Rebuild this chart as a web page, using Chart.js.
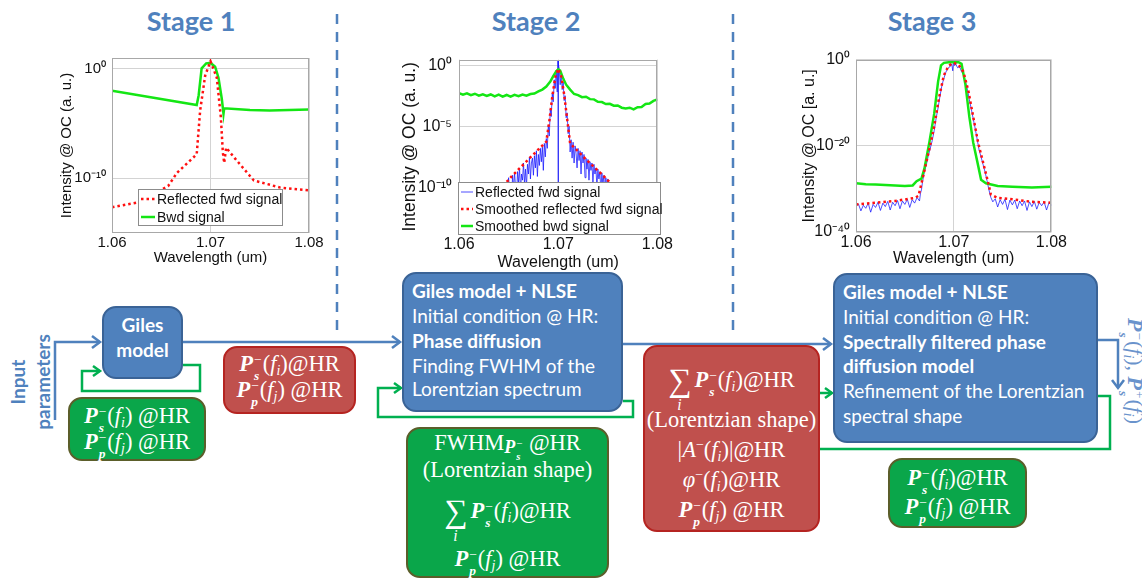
<!DOCTYPE html>
<html>
<head>
<meta charset="utf-8">
<script src="https://cdn.jsdelivr.net/npm/chart.js@4.4.0/dist/chart.umd.min.js"></script>
<style>
body { margin: 0; background: #fff; }
#page { position: relative; width: 1142px; height: 583px; overflow: hidden; font-family: Lato, "Open Sans", sans-serif; }
canvas { position: absolute; }
svg { position: absolute; left: 0; top: 0; }
.stage { position: absolute; top: 4px; width: 160px; line-height: 32px; text-align: center; font: bold 27px Lato; color: #4f81bd; }
.box { position: absolute; box-sizing: border-box; border-radius: 14px; color: #fff; }
.blue { background: #4f81bd; border: 2px solid #3a6396; }
.red { background: #c0504d; border: 2px solid #b52421; }
.green { background: #0aa64a; border: 2px solid #5b5e2a; }
.ln { position: absolute; left: 0; right: 0; height: 26px; line-height: 26px; white-space: nowrap; }
.sans .ln { font: 19px Lato; padding-left: 8px; }
.sans b { font-weight: bold; }
.math .ln { font: 22.5px "Liberation Serif", serif; text-align: center; }
.st { display: inline-flex; flex-direction: column; font-size: .6em; line-height: 1.15em; vertical-align: .5em; margin: 0 1px; text-align: left; }
sub { font-size: .62em; vertical-align: -.3em; font-style: italic; }
sub.fw { font-style: normal; font-size: .8em; vertical-align: -.15em; }
sup { font-size: .62em; vertical-align: .55em; }
.sum { position: relative; display: inline-block; font-size: 1.45em; line-height: 1; vertical-align: -.12em; margin-right: 3px; }
.sum i { position: absolute; left: 50%; top: 100%; transform: translateX(-60%); font-size: .48em; line-height: 1; }
#inputTxt { position: absolute; left: -25px; top: 357px; width: 110px; height: 50px; text-align: center; font: bold 19px/25px Lato; color: #4f81bd; transform: rotate(-90deg); }
#outTxt { position: absolute; left: 1050px; top: 358px; width: 170px; height: 26px; line-height: 26px; text-align: center; font: 22px "Liberation Serif", serif; color: #6a93cc; transform: rotate(90deg); white-space: nowrap; }
</style>
</head>
<body>
<div id="page">
  <svg width="1142" height="583">
    <g stroke="#4f81bd" stroke-width="2.5" fill="none">
      <line x1="337" y1="14" x2="337" y2="333" stroke-dasharray="10,8"/>
      <line x1="733" y1="14" x2="733" y2="330" stroke-dasharray="10,8"/>
      <polyline points="55,420 55,342 100,342"/>
      <polyline points="92,336 100,342 92,348"/>
      <line x1="183" y1="342" x2="400" y2="342"/>
      <polyline points="392,336 400,342 392,348"/>
      <line x1="623" y1="344" x2="831" y2="344"/>
      <polyline points="823,338 831,344 823,350"/>
      <polyline points="1098,340 1118,340 1118,388"/>
      <polyline points="1112,380 1118,388 1124,380"/>
    </g>
    <g stroke="#00b050" stroke-width="2.5" fill="none">
      <polyline points="183,365 200,365 200,391 82,391 82,371 100,371"/>
      <polyline points="93,366 100,371 93,376"/>
      <polyline points="623,401 633,401 633,417 378,417 378,388 401,388"/>
      <polyline points="394,383 401,388 394,393"/>
      <polyline points="1098,396 1110,396 1110,449 817,449 817,393 832,393"/>
      <polyline points="825,388 832,393 825,398"/>
    </g>
  </svg>

  <div class="stage" style="left:111px">Stage 1</div>
  <div class="stage" style="left:456px">Stage 2</div>
  <div class="stage" style="left:852px">Stage 3</div>

  <canvas id="c1" width="273" height="224" style="left:52px;top:43px"></canvas>
  <canvas id="c2" width="274" height="229" style="left:400px;top:43px"></canvas>
  <canvas id="c3" width="270" height="224" style="left:798px;top:44px"></canvas>

  <div id="inputTxt">Input<br>parameters</div>
  <div id="outTxt"></div>
</div>

<script>
// ---- shared axis values
const xTicks = [1.06, 1.07, 1.08];
const xTickLabels = ["1.06", "1.07", "1.08"];

// ---- Stage 1 (log10 of intensity)
const s1YTickExp = [0, -10];
const s1YTickLabels = ["10⁰", "10⁻¹⁰"];
const s1RedWl = [1.0600, 1.0627, 1.0657, 1.0666, 1.0686, 1.06895, 1.06946, 1.0700, 1.07064, 1.07105, 1.07125, 1.07139, 1.07159, 1.0725, 1.0744, 1.0771, 1.0800];
const s1Red = [-12.65, -12.2, -10.7, -9.5, -7.8, -3.8, -0.6, 0.7, -0.8, -4.4, -7.6, -8.6, -7.2, -8.2, -10.2, -10.85, -11.1];
const s1GreenWl = [1.0600, 1.0686, 1.0688, 1.0691, 1.06956, 1.0700, 1.07047, 1.07081, 1.07115, 1.07132, 1.07139, 1.0740, 1.0760, 1.0800];
const s1Green = [-2.0, -3.3, -2.4, 0.06, 0.5, 0.55, 0.2, -0.8, -2.75, -4.1, -3.6, -3.75, -3.8, -3.7];

// ---- Stage 2
const s2YTickExp = [0, -5, -10];
const s2YTickLabels = ["10⁰", "10⁻⁵", "10⁻¹⁰"];
const s2BlueWl = [1.0600, 1.0602, 1.0604, 1.0607, 1.0609, 1.0612, 1.0614, 1.0618, 1.0620, 1.0626, 1.0640,
  1.0645, 1.0646, 1.0647, 1.0648, 1.0649, 1.0650, 1.0651, 1.0652, 1.0653, 1.0654, 1.0655, 1.0656, 1.0657, 1.0658, 1.0659,
  1.0660, 1.0661, 1.0662, 1.0663, 1.0664, 1.0665, 1.0666, 1.0667, 1.0668, 1.0669, 1.0670, 1.0671, 1.0672, 1.0673, 1.0674,
  1.0675, 1.0676, 1.0677, 1.0678, 1.0679, 1.0680, 1.0681, 1.0682, 1.0683, 1.0684, 1.0685, 1.0686, 1.0687, 1.0688, 1.0689,
  1.0690, 1.0691, 1.0692, 1.0693, 1.0694, 1.0695, 1.0696, 1.0697, 1.0698, 1.0699, 1.06998, 1.07, 1.07002, 1.0701,
  1.0702, 1.0703, 1.0704, 1.0705, 1.0706, 1.0707, 1.0708, 1.0709, 1.0710, 1.0711, 1.0712, 1.0713, 1.0714, 1.0715,
  1.0716, 1.0717, 1.0718, 1.0719, 1.0720, 1.0721, 1.0722, 1.0723, 1.0724, 1.0725, 1.0726, 1.0727, 1.0728, 1.0729,
  1.0730, 1.0731, 1.0732, 1.0733, 1.0734, 1.0735, 1.0736, 1.0737, 1.0738, 1.0739, 1.0740, 1.0741, 1.0742, 1.0743,
  1.0744, 1.0745, 1.0746, 1.0747, 1.0748, 1.0749, 1.0750, 1.0751, 1.0752, 1.0753, 1.0754, 1.0755,
  1.0765, 1.0772, 1.0780, 1.0782, 1.0785, 1.0788, 1.0790, 1.0793, 1.0796, 1.0798, 1.0800];
const s2Blue = [-14.5, -13.4, -14.8, -13.6, -15.0, -13.5, -14.6, -13.8, -15.0, -14.5, -12.5,
  -10.2, -9.6, -11.0, -9.9, -10.6, -9.2, -10.4, -9.6, -11.2, -9.0, -10.1, -8.8, -9.9, -10.8, -8.7,
  -9.6, -8.4, -10.3, -8.9, -9.4, -8.0, -9.7, -8.5, -10.0, -8.1, -8.9, -7.5, -9.3, -8.0, -7.6,
  -9.0, -7.4, -8.4, -7.0, -9.1, -7.3, -8.2, -6.8, -7.9, -6.7, -8.6, -6.4, -7.5, -6.0, -6.8,
  -4.9, -5.8, -3.6, -4.2, -2.3, -3.0, -1.2, -1.9, -0.4, -2.2, 0.35, -13.0, 0.1, -0.3,
  -1.6, -0.6, -2.0, -1.4, -2.9, -2.5, -4.3, -3.9, -5.6, -5.0, -7.1, -6.1, -7.6, -6.3,
  -8.0, -6.6, -7.2, -8.4, -6.8, -7.8, -7.0, -8.9, -7.1, -8.0, -7.3, -9.2, -7.6, -8.5,
  -7.7, -9.4, -7.9, -8.6, -8.0, -9.6, -8.1, -8.9, -8.4, -10.0, -8.5, -9.3, -8.7, -10.4,
  -8.8, -9.7, -9.0, -10.6, -9.2, -9.9, -9.3, -11.0, -9.6, -10.3, -11.5, -10.5,
  -13.0, -14.5, -13.5, -15.0, -13.4, -14.8, -13.6, -15.0, -13.5, -14.7, -13.4];
const s2RedWl = [1.0600, 1.0653, 1.0670, 1.0688, 1.0691, 1.0694, 1.0697, 1.0700, 1.0703, 1.0706, 1.0709, 1.0712, 1.0728, 1.0745, 1.0800];
const s2Red = [-13.9, -9.1, -7.7, -6.25, -4.6, -2.6, -1.0, -0.3, -0.9, -2.4, -4.4, -6.4, -7.7, -9.0, -13.6];
const s2GreenWl = [1.0600, 1.0604, 1.0608, 1.0612, 1.0616, 1.0620, 1.0624, 1.0628, 1.0632, 1.0636, 1.0640, 1.0644,
  1.0648, 1.0652, 1.0656, 1.0660, 1.0664, 1.0668, 1.0672, 1.0676, 1.0680, 1.0684, 1.0688, 1.0692, 1.0695, 1.0698,
  1.0700, 1.0702, 1.0705, 1.0708, 1.0712, 1.0716, 1.0720, 1.0724, 1.0728, 1.0732, 1.0736, 1.0740, 1.0744, 1.0748,
  1.0752, 1.0756, 1.0760, 1.0764, 1.0768, 1.0772, 1.0776, 1.0780, 1.0784, 1.0788, 1.0792, 1.0796, 1.0800];
const s2Green = [-2.30, -2.42, -2.30, -2.46, -2.34, -2.50, -2.38, -2.52, -2.40, -2.56, -2.42, -2.57,
  -2.44, -2.58, -2.43, -2.54, -2.40, -2.50, -2.36, -2.32, -2.15, -2.0, -1.75, -1.35, -0.9, -0.5,
  -0.35, -0.45, -1.1, -1.6, -2.0, -2.36, -2.45, -2.62, -2.58, -2.78, -2.8, -3.0, -3.02, -3.18, -3.16,
  -3.32, -3.30, -3.48, -3.55, -3.48, -3.62, -3.44, -3.42, -3.18, -3.14, -2.92, -2.8];

// ---- Stage 3
const s3YTickExp = [0, -20, -40];
const s3YTickLabels = ["10⁰", "10⁻²⁰", "10⁻⁴⁰"];
const s3BlueWl = [1.06000, 1.06025, 1.06050, 1.06075, 1.06100, 1.06125, 1.06150, 1.06175, 1.06200, 1.06225, 1.06250,
  1.06275, 1.06300, 1.06325, 1.06350, 1.06375, 1.06400, 1.06425, 1.06450, 1.06475, 1.06500, 1.06525, 1.06550,
  1.06575, 1.06600, 1.06625, 1.06650, 1.0666, 1.0667, 1.0668, 1.0670, 1.0672, 1.0674, 1.0676, 1.0678, 1.0680,
  1.0682, 1.0684, 1.0686, 1.0688, 1.0690, 1.0692, 1.0694, 1.0696, 1.0698, 1.0699, 1.0700, 1.0701, 1.0702, 1.0704,
  1.0706, 1.0708, 1.0710, 1.0712, 1.0714, 1.0716, 1.0718, 1.0720, 1.0722, 1.0724, 1.0726, 1.0728, 1.0730, 1.0732,
  1.0734, 1.0736, 1.0738, 1.0740, 1.07425, 1.07450, 1.07475, 1.07500, 1.07525, 1.07550, 1.07575, 1.07600, 1.07625,
  1.07650, 1.07675, 1.07700, 1.07725, 1.07750, 1.07775, 1.07800, 1.07825, 1.07850, 1.07875, 1.07900, 1.07925,
  1.07950, 1.07975, 1.08000];
const s3Blue = [-34.0, -33.5, -35.1, -33.8, -34.5, -33.3, -35.4, -33.6, -34.3, -33.1, -35.0,
  -33.3, -34.1, -32.9, -34.9, -33.1, -33.9, -32.7, -34.6, -32.8, -33.6, -32.4, -34.3,
  -32.5, -33.3, -32.0, -32.8, -31.0, -30.2, -28.5, -26.0, -24.4, -22.3, -20.6, -18.8, -16.5,
  -13.6, -11.2, -8.4, -5.9, -4.3, -2.9, -2.0, -1.7, -1.0, -2.6, -0.3, -1.4, -1.0, -1.9,
  -1.6, -2.8, -3.4, -5.2, -6.9, -9.3, -11.5, -13.8, -16.0, -18.5, -21.0, -22.6, -24.3, -26.0,
  -28.0, -30.2, -32.0, -33.0, -32.3, -34.2, -32.5, -33.6, -32.4, -34.8, -32.6, -33.7, -32.6,
  -34.6, -32.8, -33.9, -32.8, -35.0, -33.0, -34.1, -32.9, -34.7, -33.1, -33.9, -33.0,
  -34.9, -33.2, -33.8];
const s3RedWl = [1.0600, 1.0620, 1.0640, 1.0660, 1.0664, 1.0669, 1.0675, 1.0680, 1.0685, 1.0690, 1.0695, 1.0700,
  1.0705, 1.0710, 1.0715, 1.0720, 1.0725, 1.0730, 1.0735, 1.0738, 1.0745, 1.0760, 1.0780, 1.0800];
const s3Red = [-33.6, -33.2, -32.8, -32.1, -31.6, -26.8, -20.8, -15.6, -8.8, -3.6, -1.35, -0.75,
  -1.2, -2.85, -7.3, -13.3, -19.3, -23.8, -28.3, -31.3, -32.1, -32.4, -33.0, -33.2];
const s3GreenWl = [1.0600, 1.0610, 1.0620, 1.0630, 1.0640, 1.0650, 1.0658, 1.0662, 1.0667, 1.0670, 1.0675, 1.0680,
  1.0684, 1.0687, 1.0690, 1.0695, 1.0700, 1.0705, 1.0708, 1.0712, 1.0716, 1.0720, 1.0725, 1.0728, 1.0733,
  1.0745, 1.0760, 1.0780, 1.0800];
const s3Green = [-28.7, -28.9, -29.0, -29.1, -29.2, -29.3, -29.2, -28.2, -27.6, -25.3, -19.3, -12.6,
  -5.1, -1.35, -0.75, -0.6, -0.6, -0.6, -1.0, -5.8, -13.3, -19.3, -24.6, -27.9, -28.7,
  -29.3, -29.5, -29.7, -29.5];

const axisFont = '"Liberation Sans", Arial, sans-serif';
const gridColor = "#d3d3d3";

const pts = (wl, ex) => wl.map((w, i) => ({ x: w, y: Math.pow(10, ex[i]) }));

const redLine = (label, wl, ex) => ({ label, data: pts(wl, ex), borderColor: "#ff1010", borderWidth: 2.5, borderDash: [2.5, 3], pointRadius: 0, order: 1 });
const greenLine = (label, wl, ex) => ({ label, data: pts(wl, ex), borderColor: "#14e614", borderWidth: 2.5, pointRadius: 0, order: 2 });
const blueLine = (label, wl, ex) => ({ label, data: pts(wl, ex), borderColor: "rgba(20,20,255,0.75)", borderWidth: 1, pointRadius: 0, order: 3 });

// axes box like matlab
const frame = {
  id: "frame",
  afterDatasetsDraw(chart) {
    const a = chart.chartArea, ctx = chart.ctx;
    ctx.save();
    ctx.strokeStyle = "#a8a8a8";
    ctx.lineWidth = 1;
    ctx.strokeRect(Math.round(a.left) + 0.5, Math.round(a.top) + 0.5, Math.round(a.width) - 1, Math.round(a.height) - 1);
    ctx.restore();
  },
};

// legend drawn inside the plot box
const innerLegend = {
  id: "innerLegend",
  afterDatasetsDraw(chart, args, o) {
    if (!o || !o.w) return;
    const a = chart.chartArea, ctx = chart.ctx;
    const x = Math.round(a.left + o.x), y = Math.round(a.top + o.y);
    ctx.save();
    ctx.fillStyle = "#fff";
    ctx.fillRect(x, y, o.w, o.h);
    ctx.strokeStyle = "#8c8c8c";
    ctx.lineWidth = 1;
    ctx.strokeRect(x + 0.5, y + 0.5, o.w, o.h);
    ctx.font = o.fs + "px " + axisFont;
    ctx.textBaseline = "middle";
    chart.data.datasets.forEach((ds, i) => {
      const ry = y + o.first + i * o.row;
      ctx.beginPath();
      ctx.setLineDash(ds.borderDash || []);
      ctx.strokeStyle = ds.borderColor;
      ctx.lineWidth = ds.borderWidth;
      ctx.moveTo(x + o.s0, ry);
      ctx.lineTo(x + o.s1, ry);
      ctx.stroke();
      ctx.setLineDash([]);
      ctx.fillStyle = "#111";
      ctx.fillText(ds.label, x + o.tx, ry + 1);
    });
    ctx.restore();
  },
};

function stageChart(id, o) {
  const cv = document.getElementById(id);
  return new Chart(cv.getContext("2d"), {
    type: "line",
    data: { datasets: o.datasets },
    options: {
      responsive: false,
      animation: false,
      events: [],
      layout: { padding: { top: 10, right: 16, left: 0, bottom: 0 } },
      plugins: { legend: { display: false }, tooltip: { enabled: false }, innerLegend: o.legend || {} },
      scales: {
        x: {
          type: "linear", min: 1.06, max: 1.08,
          afterBuildTicks: (s) => { s.ticks = xTicks.map((v) => ({ value: v })); },
          afterFit: (s) => { s.height = o.xh; },
          grid: { color: gridColor, drawTicks: false },
          border: { display: false },
          ticks: { padding: o.xtp, color: "#111", maxRotation: 0, font: { family: axisFont, size: o.fs }, callback: (v, i) => xTickLabels[i] },
          title: { display: true, text: "Wavelength (um)", color: "#111", font: { family: axisFont, size: o.fs }, padding: { top: 0, bottom: 0 } },
        },
        y: {
          type: "logarithmic", min: Math.pow(10, o.ymin), max: Math.pow(10, o.ymax),
          afterBuildTicks: (s) => { s.ticks = o.yExp.map((e) => ({ value: Math.pow(10, e) })); },
          afterFit: (s) => { s.width = o.yw; },
          grid: { color: gridColor, drawTicks: false },
          border: { display: false },
          ticks: { padding: o.ytp, color: "#111", font: { family: axisFont, size: o.yfs }, callback: (v, i) => o.yLabels[i] },
          title: { display: true, text: o.ytitle, color: "#111", font: { family: axisFont, size: o.ytfs }, padding: { top: o.ytPad, bottom: 0 } },
        },
      },
    },
    plugins: [frame, innerLegend],
  });
}

stageChart("c1", {
  datasets: [redLine("Reflected fwd signal", s1RedWl, s1Red), greenLine("Bwd signal", s1GreenWl, s1Green)],
  ymin: -15, ymax: 1, yExp: s1YTickExp, yLabels: s1YTickLabels,
  ytitle: "Intensity @ OC (a. u.)", ytfs: 15, ytPad: 6, yfs: 15, ytp: 6, yw: 60,
  fs: 15, xh: 34, xtp: 1,
  legend: { x: 26, y: 131, w: 144, h: 36, first: 10, row: 18, s0: 3, s1: 17, tx: 19, fs: 14 },
});

stageChart("c2", {
  datasets: [
    blueLine("Reflected fwd signal", s2BlueWl, s2Blue),
    redLine("Smoothed reflected fwd signal", s2RedWl, s2Red),
    greenLine("Smoothed bwd signal", s2GreenWl, s2Green),
  ],
  ymin: -13.8, ymax: 0.45, yExp: s2YTickExp, yLabels: s2YTickLabels,
  ytitle: "Intensity @ OC (a. u.)", ytfs: 17.5, ytPad: 0, yfs: 16, ytp: 7, yw: 59,
  fs: 16, xh: 38, xtp: 1,
  legend: { x: -1, y: 122, w: 202, h: 52, first: 10, row: 17, s0: 3, s1: 15, tx: 17, fs: 14 },
});

stageChart("c3", {
  datasets: [
    blueLine("Reflected fwd signal", s3BlueWl, s3Blue),
    redLine("Smoothed reflected fwd signal", s3RedWl, s3Red),
    greenLine("Smoothed bwd signal", s3GreenWl, s3Green),
  ],
  ymin: -40, ymax: 0, yExp: s3YTickExp, yLabels: s3YTickLabels,
  ytitle: "Intensity @ OC [a. u.]", ytfs: 16, ytPad: 2, yfs: 16, ytp: 6, yw: 58,
  fs: 16, xh: 36, xtp: 1,
});

// ---- flow diagram boxes
const P = (s, sign) => `<b><i>P</i></b><span class="st"><span>${sign || "−"}</span><b><i>${s}</i></b></span>`;
const F = (k) => `(<i>f</i><sub>${k}</sub>)`;
const SUM = `<span class="sum">∑<i>i</i></span>`;

const boxes = [
  { cls: "blue sans", l: 102, t: 306, w: 81, h: 73, center: true, lines: [[20, "<b>Giles</b>"], [45, "<b>model</b>"]] },
  { cls: "green math", l: 68, t: 397, w: 138, h: 64, lines: [[19, `${P("s")}${F("i")} @HR`], [45, `${P("p")}${F("j")} @HR`]] },
  { cls: "red math", l: 223, t: 346, w: 133, h: 68, lines: [[18, `${P("s")}${F("i")}@HR`], [44, `${P("p")}${F("j")} @HR`]] },
  { cls: "blue sans", l: 402, t: 272, w: 221, h: 140, lines: [
    [20, "<b>Giles model + NLSE</b>"], [45, "Initial condition @ HR:"], [70, "<b>Phase diffusion</b>"],
    [95, "Finding FWHM of the"], [118, "Lorentzian spectrum"]] },
  { cls: "green math", l: 406, t: 427, w: 203, h: 151, lines: [
    [16, `FWHM<sub class="fw">${P("s")}</sub> @HR`], [43, "(Lorentzian shape)"],
    [81, `${SUM}${P("s")}${F("i")}@HR`], [132, `${P("p")}${F("j")} @HR`]] },
  { cls: "red math", l: 643, t: 345, w: 177, h: 187, lines: [
    [32, `${SUM}${P("s")}${F("i")}@HR`], [75, "(Lorentzian shape)"], [105, `|<i>A</i><sup>−</sup>${F("i")}|@HR`],
    [135, `<i>φ</i><sup>−</sup>${F("i")}@HR`], [165, `${P("p")}${F("j")} @HR`]] },
  { cls: "blue sans", l: 833, t: 273, w: 265, h: 170, lines: [
    [20, "<b>Giles model + NLSE</b>"], [45, "Initial condition @ HR:"], [70, "<b>Spectrally filtered phase</b>"],
    [94, "<b>diffusion model</b>"], [119, "Refinement of the Lorentzian"], [144, "spectral shape"]] },
  { cls: "green math", l: 888, t: 458, w: 139, h: 70, lines: [[20, `${P("s")}${F("i")}@HR`], [49, `${P("p")}${F("j")} @HR`]] },
];

const page = document.getElementById("page");
boxes.forEach((b) => {
  const d = document.createElement("div");
  d.className = "box " + b.cls;
  d.style.cssText = `left:${b.l}px;top:${b.t}px;width:${b.w}px;height:${b.h}px`;
  b.lines.forEach(([c, html]) => {
    const ln = document.createElement("div");
    ln.className = "ln";
    ln.style.top = c - 13 - 2 + "px";
    if (b.center) { ln.style.textAlign = "center"; ln.style.paddingLeft = "0"; }
    ln.innerHTML = html;
    d.appendChild(ln);
  });
  page.appendChild(d);
});

document.getElementById("outTxt").innerHTML = `${P("s")}${F("i")}, ${P("s", "+")}${F("i")}`;
</script>
</body>
</html>
